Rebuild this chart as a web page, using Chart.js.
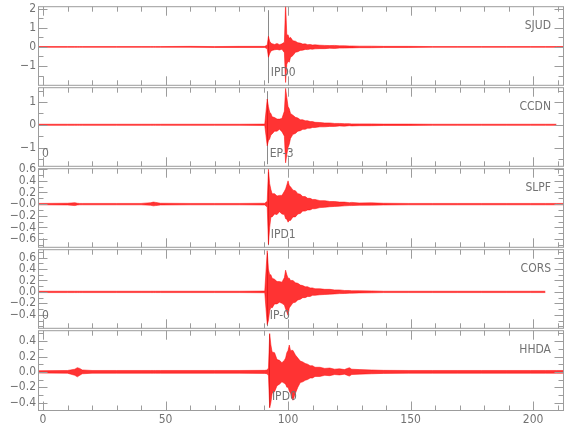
<!DOCTYPE html>
<html>
<head>
<meta charset="utf-8">
<title>seismograms</title>
<script src="https://cdn.jsdelivr.net/npm/chart.js@4.4.1/dist/chart.umd.min.js"></script>
<style>
  html, body { margin: 0; padding: 0; background: #fff; }
  #wrap { position: relative; width: 580px; height: 440px; overflow: hidden; }
  #wrap canvas { position: absolute; left: 0; }
</style>
</head>
<body>
<div id="wrap"></div>
<script>
// time axis (s) shared by all traces
var times = [-1.8, 10, 13, 14, 15, 16, 20, 30, 40, 44, 45, 46, 48, 60, 70, 80,
  90.5, 91.5, 92, 92.5, 93, 93.5, 94.5, 95.5, 96.5, 97.5, 98.5, 99, 99.5, 100, 100.5, 101,
  102, 103, 104, 105, 106, 107, 108, 109, 110, 111, 113, 115, 117, 119, 121, 123,
  125, 126, 129, 134, 139, 149, 159, 169, 179, 189, 199, 205, 209.5, 212.2];

// upper / lower envelope of each trace
var sjudHi = [0.02,0.02,0.02,0.02,0.02,0.02,0.02,0.02,0.02,0.02,0.02,0.02,0.02,0.03,0.02,0.03,
  0.03,0.1,0.56,0.3,0.2,0.17,0.13,0.18,0.12,0.16,0.25,2.3,0.6,0.64,0.45,0.5,
  0.32,0.3,0.22,0.2,0.15,0.16,0.12,0.13,0.1,0.11,0.09,0.08,0.07,0.08,0.06,0.06,
  0.05,0.05,0.04,0.04,0.03,0.03,0.02,0.02,0.02,0.02,0.02,0.02,0.02,0.02];
var sjudLo = [-0.02,-0.02,-0.02,-0.02,-0.02,-0.02,-0.02,-0.02,-0.02,-0.02,-0.02,-0.02,-0.02,-0.02,-0.03,-0.03,
  -0.03,-0.1,-0.54,-0.35,-0.22,-0.18,-0.15,-0.13,-0.16,-0.12,-0.3,-1.86,-0.9,-0.75,-0.8,-0.55,
  -0.45,-0.28,-0.25,-0.18,-0.17,-0.13,-0.14,-0.11,-0.12,-0.1,-0.09,-0.09,-0.07,-0.08,-0.06,-0.06,
  -0.05,-0.05,-0.04,-0.04,-0.03,-0.03,-0.02,-0.02,-0.02,-0.02,-0.02,-0.02,-0.02,-0.02];

var ccdnHi = [0.025,0.025,0.025,0.025,0.025,0.025,0.025,0.025,0.025,0.025,0.025,0.025,0.025,0.025,0.025,0.025,
  0.03,1.13,0.8,0.55,0.5,0.35,0.32,0.25,0.25,0.28,0.6,1.6,1.2,0.8,0.7,0.5,
  0.42,0.33,0.3,0.22,0.22,0.18,0.18,0.14,0.14,0.11,0.1,0.08,0.08,0.06,0.06,0.05,
  0.05,0.04,0.04,0.04,0.03,0.03,0.025,0.025,0.025,0.025,0.025,0.025,0.025,null];
var ccdnLo = [-0.025,-0.025,-0.025,-0.025,-0.025,-0.025,-0.025,-0.025,-0.025,-0.025,-0.025,-0.025,-0.025,-0.025,-0.025,-0.025,
  -0.03,-0.92,-0.7,-0.62,-0.45,-0.4,-0.28,-0.28,-0.2,-0.3,-0.5,-1.67,-1.3,-1.0,-0.85,-0.6,
  -0.42,-0.38,-0.28,-0.26,-0.2,-0.2,-0.15,-0.15,-0.12,-0.12,-0.09,-0.09,-0.07,-0.07,-0.05,-0.06,
  -0.04,-0.05,-0.04,-0.04,-0.03,-0.03,-0.025,-0.025,-0.025,-0.025,-0.025,-0.025,-0.025,null];

var slpfHi = [0.012,0.015,0.025,0.015,0.012,0.012,0.012,0.012,0.012,0.025,0.035,0.03,0.015,0.012,0.012,0.012,
  0.015,0.05,0.6,0.35,0.25,0.18,0.18,0.14,0.15,0.15,0.22,0.26,0.33,0.4,0.32,0.3,
  0.24,0.23,0.18,0.17,0.13,0.13,0.1,0.1,0.08,0.08,0.06,0.06,0.045,0.045,0.035,0.035,
  0.025,0.03,0.02,0.022,0.015,0.012,0.012,0.012,0.012,0.012,0.012,0.012,0.012,0.012];
var slpfLo = [-0.012,-0.015,-0.025,-0.015,-0.012,-0.012,-0.012,-0.012,-0.012,-0.02,-0.03,-0.025,-0.015,-0.012,-0.012,-0.012,
  -0.015,-0.05,-0.69,-0.4,-0.22,-0.22,-0.17,-0.18,-0.13,-0.17,-0.18,-0.25,-0.26,-0.31,-0.28,-0.28,
  -0.22,-0.22,-0.17,-0.16,-0.12,-0.12,-0.1,-0.1,-0.08,-0.08,-0.06,-0.055,-0.045,-0.04,-0.035,-0.03,
  -0.025,-0.025,-0.02,-0.018,-0.015,-0.012,-0.012,-0.012,-0.012,-0.012,-0.012,-0.012,-0.012,-0.012];

var corsHi = [0.012,0.012,0.012,0.012,0.012,0.012,0.012,0.012,0.012,0.012,0.012,0.012,0.012,0.012,0.012,0.012,
  0.015,0.72,0.4,0.3,0.3,0.24,0.22,0.18,0.18,0.17,0.25,0.38,0.3,0.24,0.24,0.2,
  0.2,0.16,0.15,0.12,0.11,0.09,0.09,0.07,0.07,0.055,0.055,0.045,0.045,0.035,0.035,0.025,
  0.025,0.02,0.02,0.018,0.012,0.012,0.012,0.012,0.012,0.012,0.012,0.012,null,null];
var corsLo = [-0.012,-0.012,-0.012,-0.012,-0.012,-0.012,-0.012,-0.012,-0.012,-0.012,-0.012,-0.012,-0.012,-0.012,-0.012,-0.012,
  -0.015,-0.57,-0.5,-0.33,-0.27,-0.28,-0.21,-0.21,-0.18,-0.2,-0.23,-0.3,-0.35,-0.41,-0.28,-0.25,
  -0.19,-0.18,-0.14,-0.13,-0.1,-0.1,-0.08,-0.08,-0.06,-0.06,-0.05,-0.045,-0.04,-0.035,-0.03,-0.028,
  -0.022,-0.022,-0.018,-0.016,-0.012,-0.012,-0.012,-0.012,-0.012,-0.012,-0.012,-0.012,null,null];

var hhdaHi = [0.015,0.018,0.035,0.055,0.045,0.025,0.018,0.018,0.018,0.018,0.018,0.018,0.018,0.018,0.018,0.018,
  0.02,0.025,0.05,0.5,0.35,0.26,0.25,0.16,0.15,0.12,0.15,0.18,0.25,0.28,0.35,0.28,
  0.28,0.22,0.18,0.14,0.13,0.11,0.1,0.08,0.08,0.06,0.06,0.045,0.05,0.035,0.04,0.03,
  0.055,0.035,0.03,0.025,0.02,0.018,0.018,0.018,0.018,0.018,0.018,0.018,0.018,0.018];
var hhdaLo = [-0.015,-0.018,-0.045,-0.065,-0.045,-0.025,-0.018,-0.018,-0.018,-0.018,-0.018,-0.018,-0.018,-0.018,-0.018,-0.018,
  -0.02,-0.025,-0.05,-0.47,-0.4,-0.28,-0.26,-0.18,-0.16,-0.13,-0.15,-0.16,-0.2,-0.2,-0.25,-0.28,
  -0.37,-0.28,-0.2,-0.14,-0.13,-0.11,-0.1,-0.08,-0.08,-0.06,-0.06,-0.045,-0.05,-0.035,-0.04,-0.03,
  -0.055,-0.035,-0.03,-0.025,-0.02,-0.018,-0.018,-0.018,-0.018,-0.018,-0.018,-0.018,-0.018,-0.018];

var stations = ['SJUD', 'CCDN', 'SLPF', 'CORS', 'HHDA'];
var phaseNames = ['IPD0', 'EP-3', 'IPD1', 'IP-0', 'IPD0'];
var pickTimes = [91.7, 91.3, 91.7, 91.3, 92.2];
var compLabels = ['', '0', '', '0', ''];

var yMins = [-1.98, -1.80, -0.733, -0.627, -0.497];
var yMaxs = [2.13, 1.65, 0.617, 0.746, 0.543];
var yTickVals = [[2, 1, 0, -1], [1, 0, -1], [0.6, 0.4, 0.2, 0, -0.2, -0.4, -0.6],
  [0.6, 0.4, 0.2, 0, -0.2, -0.4], [0.4, 0.2, 0, -0.2, -0.4]];
var yTickLabels = [['2', '1', '0', '\u22121'], ['1', '0', '\u22121'],
  ['0.6', '0.4', '0.2', '\u22120.0', '\u22120.2', '\u22120.4', '\u22120.6'],
  ['0.6', '0.4', '0.2', '0.0', '\u22120.2', '\u22120.4'],
  ['0.4', '0.2', '0.0', '\u22120.2', '\u22120.4']];
var yMinorSteps = [0.5, 0.5, 0.1, 0.1, 0.1];

var xMin = -2.04, xMax = 212.2;
var xTickVals = [0, 50, 100, 150, 200];
var xTickLabels = ['0', '50', '100', '150', '200'];

var traceHi = [sjudHi, ccdnHi, slpfHi, corsHi, hhdaHi];
var traceLo = [sjudLo, ccdnLo, slpfLo, corsLo, hhdaLo];

var RED = '#ff0000';
var AXIS = '#9c9c9c';
var TXT = '#727272';
var FONT = '"Liberation Sans Narrow", "DejaVu Sans Condensed", "Liberation Sans", sans-serif';
Chart.defaults.font.family = FONT;

var panelTop = [5, 86, 167, 248, 329];
var panelH = 81;

var framePlugin = {
  id: 'frame',
  beforeDatasetsDraw: function (chart, args, opts) {
    var p = opts.idx, ctx = chart.ctx, a = chart.chartArea;
    var px = Math.round(chart.scales.x.getPixelForValue(pickTimes[p])) + 0.5;
    ctx.save();
    ctx.strokeStyle = '#8a8a8a';
    ctx.lineWidth = 1;
    ctx.beginPath();
    ctx.moveTo(px, a.top + 4);
    ctx.lineTo(px, a.top + 77);
    ctx.stroke();
    ctx.restore();
  },
  afterDraw: function (chart, args, opts) {
    var p = opts.idx, ctx = chart.ctx, a = chart.chartArea;
    var xs = chart.scales.x, ys = chart.scales.y;
    var L = a.left + 0.5, R = a.right + 0.5, T = a.top + 0.5, B = a.bottom + 0.5;
    ctx.save();
    ctx.strokeStyle = AXIS;
    ctx.lineWidth = 1;
    ctx.strokeRect(L, T, R - L, B - T);
    ctx.beginPath();
    // y ticks, left and right, pointing in
    var st = yMinorSteps[p];
    for (var v = Math.ceil(yMins[p] / st) * st; v <= yMaxs[p] + 1e-9; v += st) {
      var yy = Math.round(ys.getPixelForValue(v)) + 0.5;
      var major = yTickVals[p].some(function (m) { return Math.abs(m - v) < 1e-6; });
      var len = major ? 9 : 5;
      ctx.moveTo(L, yy); ctx.lineTo(L + len, yy);
      ctx.moveTo(R, yy); ctx.lineTo(R - len, yy);
    }
    // x ticks, top and bottom
    for (var t = 0; t <= 210; t += 10) {
      var xx = Math.round(xs.getPixelForValue(t)) + 0.5;
      var l2 = (t % 50 === 0) ? 9 : 5;
      ctx.moveTo(xx, T); ctx.lineTo(xx, T + l2);
      ctx.moveTo(xx, B); ctx.lineTo(xx, B - l2);
    }
    ctx.stroke();

    ctx.fillStyle = TXT;
    ctx.font = '12px ' + FONT;
    ctx.textBaseline = 'middle';
    ctx.textAlign = 'right';
    ctx.fillText(stations[p], a.right - 12, a.top + 20);
    ctx.textAlign = 'left';
    var px = chart.scales.x.getPixelForValue(pickTimes[p]);
    ctx.fillText(phaseNames[p], px + 3, a.top + 67);
    if (compLabels[p]) ctx.fillText(compLabels[p], a.left + 4, a.top + 67);
    ctx.restore();
  }
};

var wrap = document.getElementById('wrap');

for (var p = 0; p < 5; p++) {
  (function (p) {
    var last = (p === 4);
    var cv = document.createElement('canvas');
    var h = 8 + panelH + (last ? 30 : 8);
    cv.width = 580;
    cv.height = h;
    cv.style.width = '580px';
    cv.style.height = h + 'px';
    cv.style.top = (panelTop[p] - 8) + 'px';
    wrap.appendChild(cv);

    var hiPts = traceHi[p].map(function (v, i) { return { x: times[i], y: v }; });
    var loPts = traceLo[p].map(function (v, i) { return { x: times[i], y: v }; });

    new Chart(cv, {
      type: 'line',
      data: {
        datasets: [
          { data: hiPts, borderColor: RED, borderWidth: 0.5, pointRadius: 0, fill: false, tension: 0 },
          { data: loPts, borderColor: RED, borderWidth: 0.5, pointRadius: 0, fill: '-1',
            backgroundColor: 'rgba(255,0,0,0.8)', tension: 0 }
        ]
      },
      options: {
        responsive: false,
        animation: false,
        events: [],
        layout: { autoPadding: false, padding: { left: 0, right: 17, top: 8, bottom: last ? 6 : 8 } },
        plugins: { legend: { display: false }, tooltip: { enabled: false }, frame: { idx: p } },
        scales: {
          x: {
            type: 'linear', min: xMin, max: xMax, display: last,
            grid: { display: false, drawTicks: false }, border: { display: false },
            afterBuildTicks: function (s) { s.ticks = xTickVals.map(function (v) { return { value: v }; }); },
            afterFit: function (s) { s.height = last ? 24 : 0; },
            ticks: {
              autoSkip: false, maxRotation: 0, padding: 3, color: TXT,
              font: { size: 12 },
              callback: function (v, i) { return xTickLabels[i]; }
            }
          },
          y: {
            type: 'linear', min: yMins[p], max: yMaxs[p],
            grid: { display: false, drawTicks: false }, border: { display: false },
            afterBuildTicks: function (s) { s.ticks = yTickVals[p].map(function (v) { return { value: v }; }); },
            afterFit: function (s) { s.width = 38; },
            ticks: {
              autoSkip: false, padding: 2, color: TXT,
              font: { size: 12 },
              callback: function (v, i) { return yTickLabels[p][i]; }
            }
          }
        }
      },
      plugins: [framePlugin]
    });
  })(p);
}
</script>
</body>
</html>
